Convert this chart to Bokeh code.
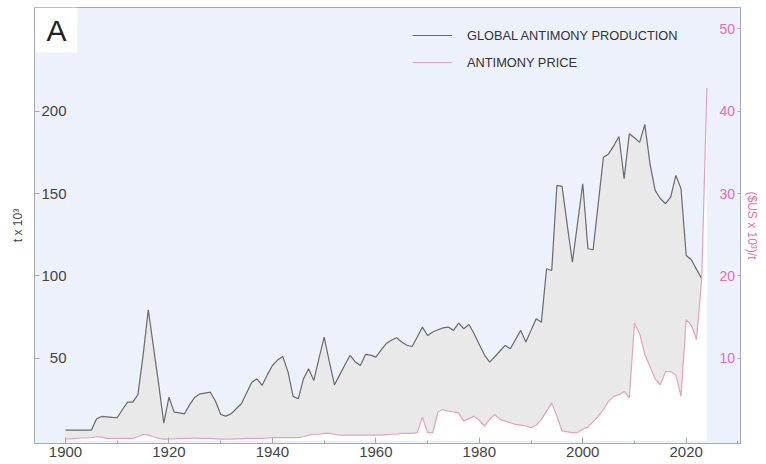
from bokeh.plotting import figure
from bokeh.models import Range1d, LinearAxis, FixedTicker, Legend, LegendItem, Label
from bokeh.embed import file_html
from bokeh.resources import INLINE

# ---------------- data ----------------
prod_years = list(range(1900, 2024))
production = [
    6.5, 6.5, 6.5, 6.5, 6.5, 6.5, 13.4, 14.8, 14.5, 14.2,
    14.0, 19.0, 23.5, 23.5, 28.0, 52.0, 79.5, 57.0, 34.6, 10.7,
    26.5, 17.4, 17.0, 16.4, 22.0, 26.5, 28.5, 29.0, 29.5, 24.0,
    16.0, 15.0, 16.4, 19.5, 22.5, 29.0, 35.6, 37.6, 33.6, 40.0,
    45.7, 49.0, 51.2, 42.0, 27.0, 25.5, 37.6, 43.7, 36.6, 50.0,
    62.9, 48.0, 34.0, 40.0, 46.0, 51.8, 48.0, 45.7, 52.4, 52.0,
    50.8, 55.0, 59.0, 61.0, 62.5, 60.0, 58.0, 57.2, 63.0, 69.0,
    63.9, 66.0, 67.4, 68.5, 69.0, 67.0, 71.4, 68.0, 70.6, 65.0,
    58.5, 52.0, 47.7, 51.0, 54.5, 57.9, 55.9, 61.5, 67.0, 59.9,
    67.0, 74.0, 72.0, 104.4, 103.3, 154.9, 154.3, 131.0, 108.4, 132.0,
    155.9, 116.5, 115.9, 144.0, 172.0, 174.0, 179.0, 184.6, 159.0, 186.2,
    183.8, 181.0, 191.9, 168.0, 151.9, 147.0, 143.8, 147.8, 161.0, 152.9,
    112.4, 109.8, 104.0, 98.3,
]

price_years = list(range(1900, 2025))
price = [
    0.25, 0.25, 0.3, 0.35, 0.35, 0.4, 0.5, 0.45, 0.3, 0.3,
    0.3, 0.3, 0.3, 0.3, 0.5, 0.8, 0.7, 0.5, 0.3, 0.2,
    0.25, 0.25, 0.3, 0.3, 0.3, 0.35, 0.3, 0.3, 0.3, 0.25,
    0.2, 0.2, 0.2, 0.25, 0.25, 0.3, 0.3, 0.3, 0.3, 0.35,
    0.4, 0.4, 0.4, 0.4, 0.4, 0.4, 0.5, 0.7, 0.8, 0.8,
    0.9, 0.9, 0.8, 0.7, 0.7, 0.7, 0.7, 0.7, 0.7, 0.7,
    0.7, 0.7, 0.75, 0.8, 0.8, 0.9, 0.9, 0.9, 1.0, 2.9,
    1.0, 1.0, 3.5, 3.8, 3.6, 3.5, 3.4, 2.4, 2.7, 3.0,
    2.5, 1.8, 2.6, 3.2, 2.6, 2.4, 2.2, 2.0, 1.9, 1.8,
    1.6, 1.9, 2.6, 3.6, 4.6, 3.0, 1.2, 1.1, 1.0, 1.0,
    1.4, 1.7, 2.3, 3.0, 3.8, 4.8, 5.4, 5.6, 6.0, 5.2,
    14.3, 13.0, 10.5, 9.0, 7.5, 6.8, 8.4, 8.4, 8.0, 5.4,
    14.7, 14.0, 12.3, 19.6, 42.8,
]

x_major_ticks = [1900, 1920, 1940, 1960, 1980, 2000, 2020]
x_minor_ticks = [1910, 1930, 1950, 1970, 1990, 2010, 2030]
left_ticks = [50, 100, 150, 200]
right_ticks = [10, 20, 30, 40, 50]

series_names = ["GLOBAL ANTIMONY PRODUCTION", "ANTIMONY PRICE"]
panel_tag = "A"
left_title = "t x 10\u00b3"
right_title = "($US x 10\u00b3)/t"

# ---------------- styles ----------------
FONT = "Liberation Sans"
BG = "#edf1fb"
PROD_FILL = "#e9e9ea"
PROD_LINE = "#6a6a6a"
PRICE_LINE = "#e6a2bd"
PINK_TEXT = "#e070b0"
TEXT = "#444444"
FRAME = "#a8a8a8"

p = figure(width=766, height=464, output_backend="svg", toolbar_location=None,
           x_range=Range1d(1894, 2030.5), y_range=Range1d(-1.6, 262.8))
p.extra_y_ranges = {"price": Range1d(-0.32, 52.56)}
p.background_fill_color = BG
p.border_fill_color = "white"
p.outline_line_color = FRAME
p.outline_line_width = 1
p.grid.visible = False
p.min_border_top = 7
p.min_border_left = 34
p.min_border_right = 26
p.min_border_bottom = 21

# fills and lines
p.varea(x=prod_years, y1=0, y2=production, fill_color=PROD_FILL)
p.varea(x=price_years, y1=0, y2=price, fill_color="white", y_range_name="price")
prod_r = p.line(prod_years, production, line_color=PROD_LINE, line_width=1.2)
price_r = p.line(price_years, price, line_color=PRICE_LINE, line_width=1.2,
                 y_range_name="price")

# bottom axis
xa = p.xaxis[0]
xa.ticker = FixedTicker(ticks=x_major_ticks, minor_ticks=x_minor_ticks)
xa.major_tick_in = 6
xa.major_tick_out = 0
xa.minor_tick_in = 3
xa.minor_tick_out = 0
xa.major_label_standoff = 3
xa.axis_line_color = FRAME
xa.major_tick_line_color = FRAME
xa.minor_tick_line_color = FRAME
xa.major_label_text_font = FONT
xa.major_label_text_font_size = "15px"
xa.major_label_text_color = TEXT

# left axis
ya = p.yaxis[0]
ya.ticker = FixedTicker(ticks=left_ticks)
ya.major_tick_in = 5
ya.major_tick_out = 0
ya.minor_tick_in = 0
ya.minor_tick_out = 0
ya.major_label_standoff = -32
ya.axis_line_color = FRAME
ya.major_tick_line_color = FRAME
ya.major_label_text_font = FONT
ya.major_label_text_font_size = "15px"
ya.major_label_text_color = TEXT
ya.axis_label = left_title
ya.axis_label_text_font = FONT
ya.axis_label_text_font_size = "12px"
ya.axis_label_text_font_style = "normal"
ya.axis_label_text_color = TEXT
ya.axis_label_standoff = 13

# right axis
ra = LinearAxis(y_range_name="price", ticker=FixedTicker(ticks=right_ticks))
ra.major_tick_in = 3
ra.major_tick_out = 0
ra.minor_tick_in = 0
ra.minor_tick_out = 0
ra.major_label_standoff = -21
ra.axis_line_color = FRAME
ra.major_tick_line_color = "#c8a0b8"
ra.major_label_text_font = FONT
ra.major_label_text_font_size = "14px"
ra.major_label_text_color = PINK_TEXT
ra.axis_label = right_title
ra.axis_label_text_font = FONT
ra.axis_label_text_font_size = "12px"
ra.axis_label_text_font_style = "normal"
ra.axis_label_text_color = PINK_TEXT
ra.axis_label_standoff = 7
p.add_layout(ra, "right")

# legend
legend = Legend(items=[LegendItem(label=series_names[0], renderers=[prod_r]),
                       LegendItem(label=series_names[1], renderers=[price_r])],
                location=(368, 361), orientation="vertical")
legend.background_fill_alpha = 0
legend.border_line_alpha = 0
legend.glyph_width = 40
legend.glyph_height = 20
legend.label_height = 20
legend.label_standoff = 15
legend.spacing = 7
legend.padding = 10
legend.label_text_font = FONT
legend.label_text_font_size = "12.8px"
legend.label_text_color = "#333333"
p.add_layout(legend)

# panel tag
tag = Label(x=1, y=436, x_units="screen", y_units="screen", text=panel_tag,
            text_font=FONT, text_font_size="30px", text_color="#222222",
            text_align="left", text_baseline="top",
            background_fill_color="white", padding=(11, 11, 6, 6))
p.add_layout(tag)

open("out.html", "w").write(file_html(p, INLINE))
